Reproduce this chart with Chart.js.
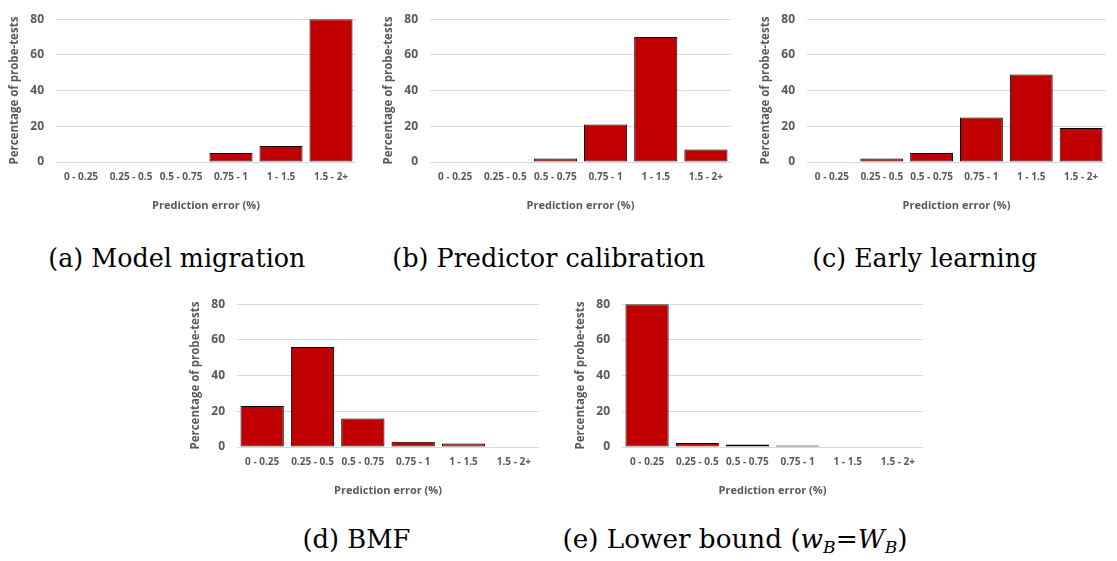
<!DOCTYPE html>
<html>
<head>
<meta charset="utf-8">
<script src="https://cdn.jsdelivr.net/npm/chart.js@4.4.1/dist/chart.umd.min.js"></script>
<style>
  html, body { margin: 0; padding: 0; background: #fff; }
  body { width: 1117px; height: 561px; position: relative; overflow: hidden; }
  .cw { position: absolute; }
  .cap { position: absolute; font-family: "DejaVu Serif", "Liberation Serif", "Times New Roman", serif; font-size: 26px; line-height: 28px;
         font-weight: normal; color: #000; white-space: nowrap; transform-origin: center center; }
  .cap i { font-style: italic; }
  .cap sub { font-size: 17px; vertical-align: -5px; line-height: 0; }
</style>
</head>
<body>
<script>
// ---- data ----
const categories = ["0 - 0.25", "0.25 - 0.5", "0.5 - 0.75", "0.75 - 1", "1 - 1.5", "1.5 - 2+"];
const modelMigration       = [0, 0, 0, 5, 9, 80];
const predictorCalibration = [0, 0, 2, 21, 70, 7];
const earlyLearning        = [0, 2, 5, 25, 49, 19];
const bmf                  = [23, 56, 16, 3, 2, 0];
const lowerBound           = [80, 2.3, 1.4, 0.9, 0, 0];
const yTicks = [0, 20, 40, 60, 80];
const yTitle = "Percentage of probe-tests";
const xTitle = "Prediction error (%)";

// ---- layout ----
const panels = [
  { data: modelMigration,       left: 0,   top: 0,   plotW: 300, padTop: 8,  cap: "(a) Model migration",       capX: 176.5, capBase: 266, capW: 257 },
  { data: predictorCalibration, left: 374, top: 0,   plotW: 301, padTop: 8,  cap: "(b) Predictor calibration", capX: 548.5, capBase: 266, capW: 313 },
  { data: earlyLearning,        left: 751, top: 0,   plotW: 299, padTop: 10, cap: "(c) Early learning",        capX: 924.5, capBase: 266, capW: 225 },
  { data: bmf,                  left: 181, top: 285, plotW: 302, padTop: 8,  cap: "(d) BMF",                   capX: 356,   capBase: 547, capW: 108 },
  { data: lowerBound,           left: 566, top: 285, plotW: 301, padTop: 8,  cap: null,                        capX: 734.5, capBase: 547, capW: 345 }
];

const AXIS_W = 56, RIGHT_PAD = 8, CANVAS_H = 215, XAXIS_H = 53;
const grey = "#595959";
const fontFam = "'Open Sans', 'Noto Sans', sans-serif";

panels.forEach((p) => {
  const wrap = document.createElement("div");
  wrap.className = "cw";
  const w = AXIS_W + p.plotW + RIGHT_PAD;
  wrap.style.left = p.left + "px";
  wrap.style.top = p.top + "px";
  wrap.style.width = w + "px";
  wrap.style.height = CANVAS_H + "px";
  const cv = document.createElement("canvas");
  wrap.appendChild(cv);
  document.body.appendChild(wrap);

  new Chart(cv, {
    type: "bar",
    data: {
      labels: categories,
      datasets: [{
        data: p.data,
        backgroundColor: "#C00000",
        borderColor: "#000000",
        borderWidth: 1,
        borderSkipped: false,
        barPercentage: 0.86,
        categoryPercentage: 1.0
      }]
    },
    options: {
      responsive: true,
      maintainAspectRatio: false,
      animation: false,
      devicePixelRatio: 1,
      layout: { padding: { top: p.padTop, right: RIGHT_PAD, left: 0, bottom: 0 } },
      plugins: { legend: { display: false }, tooltip: { enabled: false }, title: { display: false } },
      scales: {
        x: {
          grid: { display: false, drawTicks: false },
          border: { display: false },
          ticks: {
            autoSkip: false, maxRotation: 0, minRotation: 0, padding: 9,
            color: grey, font: { family: fontFam, weight: "bold", size: 10 }
          },
          title: {
            display: true, text: xTitle, color: grey,
            font: { family: fontFam, weight: "bold", size: 11 },
            padding: { top: 0, bottom: 3 }
          },
          afterFit: s => { s.height = XAXIS_H; }
        },
        y: {
          min: 0, max: 80,
          afterBuildTicks: s => { s.ticks = yTicks.map(v => ({ value: v })); },
          grid: { color: "#D9D9D9", lineWidth: 1, drawTicks: false },
          border: { display: false },
          ticks: {
            padding: 12, color: grey,
            font: { family: fontFam, weight: "bold", size: 12 }
          },
          title: {
            display: true, text: yTitle, color: grey,
            font: { family: fontFam, weight: "bold", size: 11.5 },
            padding: { top: 8, bottom: 0 }
          },
          afterFit: s => { s.width = AXIS_W; }
        }
      }
    }
  });

  // caption
  const cap = document.createElement("div");
  cap.className = "cap";
  if (p.cap) {
    cap.textContent = p.cap;
  } else {
    cap.innerHTML = "(e) Lower bound (<i>w</i><sub><i>B</i></sub>=<i>W</i><sub><i>B</i></sub>)";
  }
  document.body.appendChild(cap);
  const mw = cap.getBoundingClientRect().width;
  cap.style.left = (p.capX - mw / 2) + "px";
  cap.style.top = (p.capBase - 22) + "px";
  cap.style.transform = "scaleX(" + (p.capW / mw).toFixed(3) + ")";
});
</script>
</body>
</html>
